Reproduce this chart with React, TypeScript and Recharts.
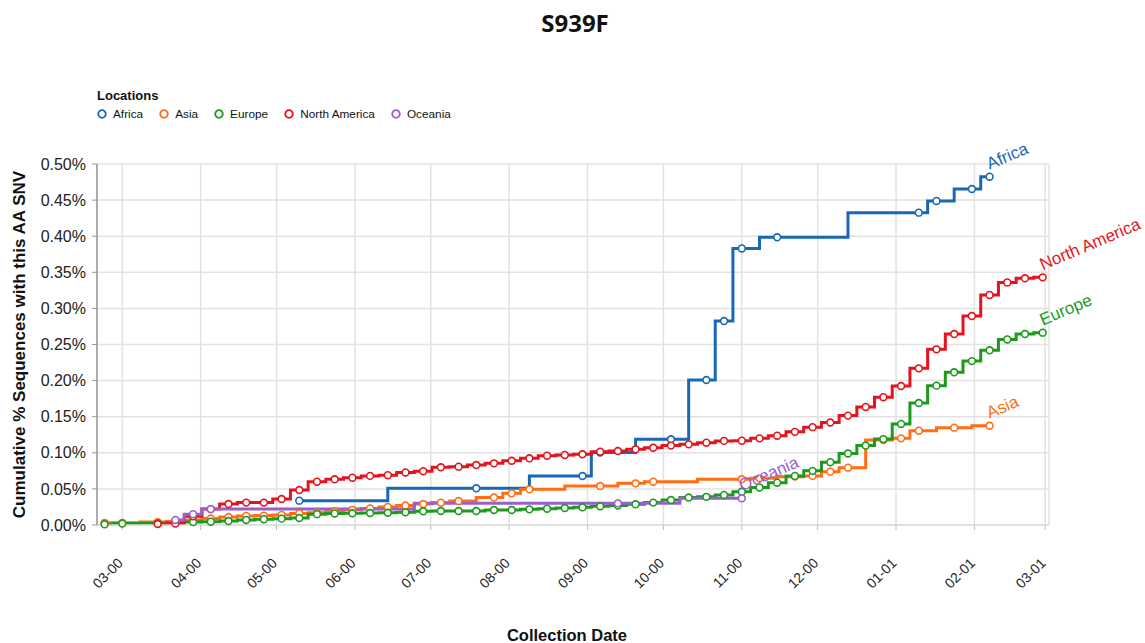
import React from 'react';
import { LineChart, Line, XAxis, YAxis, CartesianGrid } from 'recharts';

const FONT = '"Liberation Sans", Arial, Helvetica, sans-serif';

// x axis: days since 2020-03-01
const monthTicks = [0, 31, 61, 92, 122, 153, 184, 214, 245, 275, 306, 337, 365];
const monthLabels = ['03-00', '04-00', '05-00', '06-00', '07-00', '08-00', '09-00', '10-00', '11-00', '12-00', '01-01', '02-01', '03-01'];
const yTicks = [0, 0.05, 0.1, 0.15, 0.2, 0.25, 0.3, 0.35, 0.4, 0.45, 0.5];

const africaDays = [70, 140, 182, 189, 217, 231, 238, 245, 259, 315, 322, 336, 343];
const africaValues = [0.0337, 0.0508, 0.0679, 0.1005, 0.1187, 0.2008, 0.2825, 0.383, 0.3985, 0.4326, 0.4488, 0.4654, 0.4824];

const asiaDays = [-7, 0, 14, 21, 28, 35, 42, 49, 56, 63, 70, 77, 84, 91, 98, 105, 112, 119, 126, 133, 147, 154, 161, 189, 203, 210, 245, 252, 266, 273, 280, 287, 301, 308, 315, 329, 343];
const asiaValues = [0.003, 0.003, 0.004, 0.005, 0.007, 0.009, 0.011, 0.0125, 0.013, 0.014, 0.016, 0.017, 0.019, 0.021, 0.023, 0.025, 0.027, 0.029, 0.031, 0.0332, 0.038, 0.0439, 0.0494, 0.054, 0.0577, 0.06, 0.0633, 0.0646, 0.067, 0.068, 0.0739, 0.0794, 0.1177, 0.12, 0.1306, 0.1348, 0.1375];

const europeDays = [-7, 0, 14, 21, 28, 35, 42, 49, 56, 63, 70, 77, 84, 91, 98, 105, 112, 119, 126, 133, 140, 147, 154, 161, 168, 175, 182, 189, 196, 203, 210, 217, 224, 231, 238, 245, 252, 259, 266, 273, 280, 287, 294, 301, 308, 315, 322, 329, 336, 343, 350, 357, 364];
const europeValues = [0.001, 0.002, 0.0025, 0.003, 0.004, 0.0046, 0.0055, 0.007, 0.008, 0.0088, 0.0097, 0.015, 0.016, 0.0163, 0.0166, 0.017, 0.0175, 0.019, 0.0194, 0.0194, 0.0194, 0.0208, 0.0208, 0.0217, 0.0226, 0.0235, 0.0245, 0.026, 0.027, 0.0287, 0.031, 0.0346, 0.038, 0.039, 0.0416, 0.046, 0.052, 0.0586, 0.068, 0.075, 0.087, 0.099, 0.11, 0.119, 0.14, 0.169, 0.193, 0.2115, 0.227, 0.242, 0.257, 0.2645, 0.2664];

const northAmericaDays = [14, 21, 28, 35, 42, 49, 56, 63, 70, 77, 84, 91, 98, 105, 112, 119, 126, 133, 140, 147, 154, 161, 168, 175, 182, 189, 196, 203, 210, 217, 224, 231, 238, 245, 252, 259, 266, 273, 280, 287, 294, 301, 308, 315, 322, 329, 336, 343, 350, 357, 364];
const northAmericaValues = [0.0014, 0.002, 0.012, 0.022, 0.029, 0.031, 0.031, 0.036, 0.0485, 0.06, 0.0633, 0.0655, 0.068, 0.069, 0.0728, 0.0745, 0.08, 0.0808, 0.083, 0.0854, 0.089, 0.0924, 0.096, 0.097, 0.098, 0.1015, 0.1025, 0.1048, 0.107, 0.11, 0.1117, 0.114, 0.1165, 0.1168, 0.12, 0.1237, 0.129, 0.1355, 0.142, 0.1515, 0.1635, 0.177, 0.1925, 0.217, 0.2433, 0.2645, 0.2895, 0.3186, 0.336, 0.3417, 0.343];

const oceaniaDays = [21, 28, 35, 196, 245];
const oceaniaValues = [0.007, 0.015, 0.022, 0.03, 0.037];

const seriesNames = ['Africa', 'Asia', 'Europe', 'North America', 'Oceania'];
const seriesColors = ['#1a68b5', '#ff6e14', '#1d9a1d', '#e5131d', '#9a5fcf'];
const seriesDays = [africaDays, asiaDays, europeDays, northAmericaDays, oceaniaDays];
const seriesValues = [africaValues, asiaValues, europeValues, northAmericaValues, oceaniaValues];

const toData = (days: number[], values: number[]) => days.map((d, i) => ({ day: d, value: values[i] }));

function makeDot(color: string, name: string, last: number) {
  return (props: any) => {
    const { cx, cy, index } = props;
    if (cx == null || cy == null) return <g key={`e-${name}-${index}`} />;
    return (
      <g key={`d-${name}-${index}`}>
        <circle cx={cx} cy={cy} r={3.4} fill="#fff" stroke={color} strokeWidth={1.6} />
        {index === last && (
          <text
            x={cx}
            y={cy - 7}
            transform={`rotate(-23 ${cx} ${cy - 7})`}
            fill={color}
            fontSize={17}
            fontFamily={FONT}
          >
            {name}
          </text>
        )}
      </g>
    );
  };
}

const XTick = (props: any) => {
  const { x, y, payload } = props;
  const i = monthTicks.indexOf(payload.value);
  const label = i >= 0 ? monthLabels[i] : '';
  return (
    <g transform={`translate(${x + 1.5},${y + 34}) rotate(-45)`}>
      <text x={0} y={0} textAnchor="end" fill="#222" fontSize={14} fontFamily={FONT}>
        {label}
      </text>
    </g>
  );
};

const YTitle = (props: any) => {
  const vb = props.viewBox || { x: 37, y: 164, width: 60, height: 361 };
  const x = vb.x + vb.width - 72;
  const y = vb.y + vb.height / 2;
  return (
    <text
      x={x}
      y={y}
      transform={`rotate(-90 ${x} ${y})`}
      textAnchor="middle"
      fill="#111"
      fontSize={17}
      fontWeight="bold"
      fontFamily={FONT}
    >
      Cumulative % Sequences with this AA SNV
    </text>
  );
};

const XTitle = (props: any) => {
  const vb = props.viewBox || { x: 97, y: 525, width: 952, height: 60 };
  return (
    <text
      x={vb.x + vb.width / 2 - 6}
      y={vb.y + 116}
      textAnchor="middle"
      fill="#111"
      fontSize={16.5}
      fontWeight="bold"
      fontFamily={FONT}
    >
      Collection Date
    </text>
  );
};

const LegendBox = () => (
  <div style={{ position: 'absolute', left: 97, top: 88, fontFamily: FONT, color: '#111' }}>
    <div style={{ fontWeight: 'bold', fontSize: 13, lineHeight: '15px' }}>Locations</div>
    <div style={{ display: 'flex', alignItems: 'center', marginTop: 3.5, height: 14 }}>
      {seriesNames.map((n, i) => (
        <span key={n} style={{ display: 'flex', alignItems: 'center', marginRight: 16 }}>
          <svg width={10} height={10} style={{ display: 'block' }}>
            <circle cx={5} cy={5} r={3.8} fill="#fff" stroke={seriesColors[i]} strokeWidth={1.8} />
          </svg>
          <span style={{ marginLeft: 6, fontSize: 11.8, lineHeight: '14px' }}>{n}</span>
        </span>
      ))}
    </div>
  </div>
);

export default function App() {
  return (
    <div style={{ position: 'absolute', left: 0, top: 0, width: 1145, height: 643, background: '#fff', overflow: 'hidden' }}>
      <LineChart width={1145} height={643} margin={{ top: 164, right: 96, bottom: 58, left: 37 }}>
        <CartesianGrid stroke="#e2e2e2" strokeWidth={1.5} />
        <XAxis
          type="number"
          dataKey="day"
          domain={[-10, 366.5]}
          ticks={monthTicks}
          interval={0}
          height={60}
          tickSize={5}
          tickMargin={0}
          tick={(p: any) => <XTick {...p} />}
          axisLine={{ stroke: '#dcdcdc', strokeWidth: 1.5 }}
          tickLine={{ stroke: '#bbb' }}
          label={<XTitle />}
        />
        <YAxis
          type="number"
          domain={[0, 0.5]}
          ticks={yTicks}
          width={60}
          tickSize={5}
          tickMargin={6}
          tickFormatter={(v: number) => `${v.toFixed(2)}%`}
          tick={{ fill: '#222', fontSize: 16, fontFamily: FONT }}
          axisLine={{ stroke: '#999', strokeWidth: 1.5 }}
          tickLine={{ stroke: '#999' }}
          label={<YTitle />}
        />
        {seriesNames.map((n, i) => (
          <Line
            key={n}
            name={n}
            data={toData(seriesDays[i], seriesValues[i])}
            dataKey="value"
            type="step"
            stroke={seriesColors[i]}
            strokeWidth={3}
            dot={makeDot(seriesColors[i], n, seriesDays[i].length - 1)}
            activeDot={false}
            isAnimationActive={false}
          />
        ))}
      </LineChart>
      <div
        style={{
          position: 'absolute',
          left: 0,
          top: 6,
          width: 1150,
          textAlign: 'center',
          fontFamily: '"Open Sans", sans-serif',
          fontWeight: 700,
          fontSize: 24,
          color: '#111',
        }}
      >
        S939F
      </div>
      <LegendBox />
    </div>
  );
}
